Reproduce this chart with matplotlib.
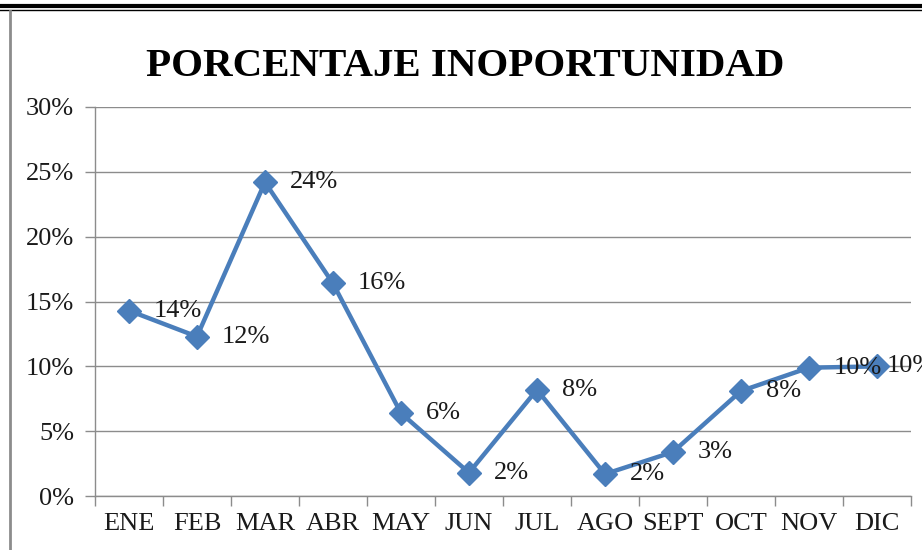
import matplotlib.pyplot as plt
from matplotlib.lines import Line2D
from matplotlib.ticker import FixedLocator, PercentFormatter

months = ['ENE', 'FEB', 'MAR', 'ABR', 'MAY', 'JUN', 'JUL', 'AGO', 'SEPT', 'OCT', 'NOV', 'DIC']
values = [0.143, 0.123, 0.242, 0.164, 0.064, 0.018, 0.082, 0.017, 0.034, 0.081, 0.099, 0.100]
labels = ['14%', '12%', '24%', '16%', '6%', '2%', '8%', '2%', '3%', '8%', '10%', '10%']

blue = '#4A7EBB'
grey = '#8C8C8C'
plt.rcParams['font.family'] = ['Liberation Serif', 'DejaVu Serif']

fig = plt.figure(figsize=(9.22, 5.5), dpi=100)
ax = fig.add_axes([0.103, 0.098, 0.885, 0.7075])

x = list(range(len(months)))
ax.plot(x, values, color=blue, lw=3.2, marker='D', markersize=12, zorder=3, clip_on=False)
for xi, v, lab in zip(x, values, labels):
    # last label sits almost on its marker, as in the original
    dx = 7 if xi == len(months) - 1 else 18
    ax.annotate(lab, (xi, v), xytext=(dx, 0), textcoords='offset points',
                va='center', ha='left', fontsize=19, color='#1a1a1a', zorder=4)

ax.set_xlim(-0.5, len(months) - 0.5)
ax.set_ylim(0, 0.30)
ax.set_yticks([0, 0.05, 0.10, 0.15, 0.20, 0.25, 0.30])
ax.yaxis.set_major_formatter(PercentFormatter(1.0, decimals=0))
ax.yaxis.grid(True, color=grey, lw=1)
ax.set_axisbelow(True)

ax.set_xticks(x)
ax.set_xticklabels(months)
ax.xaxis.set_minor_locator(FixedLocator([i - 0.5 for i in range(len(months) + 1)]))
ax.tick_params(axis='x', which='major', length=0, pad=12, labelsize=19, labelcolor='#1a1a1a')
ax.tick_params(axis='x', which='minor', length=7, color=grey, width=1)
ax.tick_params(axis='y', length=7, color=grey, width=1, labelsize=19, labelcolor='#1a1a1a', pad=8)

for s in ['top', 'right']:
    ax.spines[s].set_visible(False)
for s in ['left', 'bottom']:
    ax.spines[s].set_color(grey)
    ax.spines[s].set_linewidth(1)

fig.text(0.505, 0.880, 'PORCENTAJE INOPORTUNIDAD', ha='center', va='center',
         fontsize=29.5, fontweight='bold', color='black')

# outer frame lines
fig.add_artist(Line2D([0, 1], [0.990, 0.990], transform=fig.transFigure, color='black', lw=3))
fig.add_artist(Line2D([0, 1], [0.982, 0.982], transform=fig.transFigure, color='black', lw=1))
fig.add_artist(Line2D([0.0108, 0.0108], [0, 0.980], transform=fig.transFigure, color=grey, lw=2))

fig.savefig('out.png', dpi=100)
